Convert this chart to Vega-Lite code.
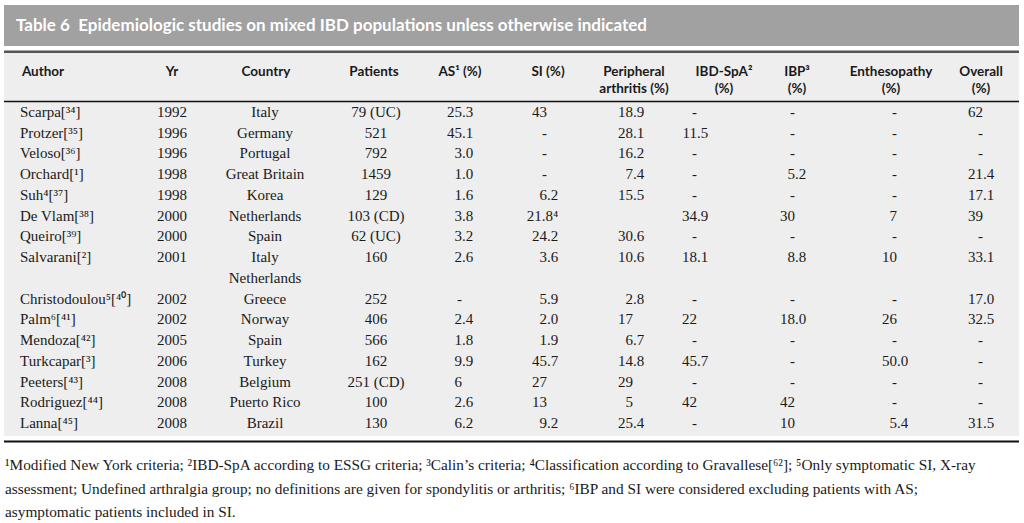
{
  "$schema": "https://vega.github.io/schema/vega-lite/v6.json",
  "width": 1024,
  "height": 523,
  "padding": 0,
  "autosize": {"type": "none"},
  "background": "white",
  "config": {"view": {"stroke": null}},
  "datasets": {
    "rows": [
      {"r": 0, "Author": "Scarpa[³⁴]", "Yr": "1992", "Country": "Italy", "Patients": "79 (UC)", "AS": "25.3", "SI": "43", "PA": "18.9", "SpA": "-", "IBP": "-", "Enth": "-", "Ov": "62"},
      {"r": 1, "Author": "Protzer[³⁵]", "Yr": "1996", "Country": "Germany", "Patients": "521", "AS": "45.1", "SI": "-", "PA": "28.1", "SpA": "11.5", "IBP": "-", "Enth": "-", "Ov": "-"},
      {"r": 2, "Author": "Veloso[³⁶]", "Yr": "1996", "Country": "Portugal", "Patients": "792", "AS": "3.0", "SI": "-", "PA": "16.2", "SpA": "-", "IBP": "-", "Enth": "-", "Ov": "-"},
      {"r": 3, "Author": "Orchard[¹]", "Yr": "1998", "Country": "Great Britain", "Patients": "1459", "AS": "1.0", "SI": "-", "PA": "7.4", "SpA": "-", "IBP": "5.2", "Enth": "-", "Ov": "21.4"},
      {"r": 4, "Author": "Suh⁴[³⁷]", "Yr": "1998", "Country": "Korea", "Patients": "129", "AS": "1.6", "SI": "6.2", "PA": "15.5", "SpA": "-", "IBP": "-", "Enth": "-", "Ov": "17.1"},
      {"r": 5, "Author": "De Vlam[³⁸]", "Yr": "2000", "Country": "Netherlands", "Patients": "103 (CD)", "AS": "3.8", "SI": "21.8⁴", "PA": "", "SpA": "34.9", "IBP": "30", "Enth": "7", "Ov": "39"},
      {"r": 6, "Author": "Queiro[³⁹]", "Yr": "2000", "Country": "Spain", "Patients": "62 (UC)", "AS": "3.2", "SI": "24.2", "PA": "30.6", "SpA": "-", "IBP": "-", "Enth": "-", "Ov": "-"},
      {"r": 7, "Author": "Salvarani[²]", "Yr": "2001", "Country": "Italy", "Patients": "160", "AS": "2.6", "SI": "3.6", "PA": "10.6", "SpA": "18.1", "IBP": "8.8", "Enth": "10", "Ov": "33.1"},
      {"r": 8, "Author": "", "Yr": "", "Country": "Netherlands", "Patients": "", "AS": "", "SI": "", "PA": "", "SpA": "", "IBP": "", "Enth": "", "Ov": ""},
      {"r": 9, "Author": "Christodoulou⁵[⁴⁰]", "Yr": "2002", "Country": "Greece", "Patients": "252", "AS": "-", "SI": "5.9", "PA": "2.8", "SpA": "-", "IBP": "-", "Enth": "-", "Ov": "17.0"},
      {"r": 10, "Author": "Palm⁶[⁴¹]", "Yr": "2002", "Country": "Norway", "Patients": "406", "AS": "2.4", "SI": "2.0", "PA": "17", "SpA": "22", "IBP": "18.0", "Enth": "26", "Ov": "32.5"},
      {"r": 11, "Author": "Mendoza[⁴²]", "Yr": "2005", "Country": "Spain", "Patients": "566", "AS": "1.8", "SI": "1.9", "PA": "6.7", "SpA": "-", "IBP": "-", "Enth": "-", "Ov": "-"},
      {"r": 12, "Author": "Turkcapar[³]", "Yr": "2006", "Country": "Turkey", "Patients": "162", "AS": "9.9", "SI": "45.7", "PA": "14.8", "SpA": "45.7", "IBP": "-", "Enth": "50.0", "Ov": "-"},
      {"r": 13, "Author": "Peeters[⁴³]", "Yr": "2008", "Country": "Belgium", "Patients": "251 (CD)", "AS": "6", "SI": "27", "PA": "29", "SpA": "-", "IBP": "-", "Enth": "-", "Ov": "-"},
      {"r": 14, "Author": "Rodriguez[⁴⁴]", "Yr": "2008", "Country": "Puerto Rico", "Patients": "100", "AS": "2.6", "SI": "13", "PA": "5", "SpA": "42", "IBP": "42", "Enth": "-", "Ov": "-"},
      {"r": 15, "Author": "Lanna[⁴⁵]", "Yr": "2008", "Country": "Brazil", "Patients": "130", "AS": "6.2", "SI": "9.2", "PA": "25.4", "SpA": "-", "IBP": "10", "Enth": "5.4", "Ov": "31.5"}
    ],
    "cols": [
      {"key": "Author", "i": 0}, {"key": "Yr", "i": 1}, {"key": "Country", "i": 2}, {"key": "Patients", "i": 3},
      {"key": "AS", "i": 4}, {"key": "SI", "i": 5}, {"key": "PA", "i": 6}, {"key": "SpA", "i": 7},
      {"key": "IBP", "i": 8}, {"key": "Enth", "i": 9}, {"key": "Ov", "i": 10}
    ],
    "header": [
      {"i": 0, "ln": 0, "t": "Author"},
      {"i": 1, "ln": 0, "t": "Yr"},
      {"i": 2, "ln": 0, "t": "Country"},
      {"i": 3, "ln": 0, "t": "Patients"},
      {"i": 4, "ln": 0, "t": "AS¹ (%)"},
      {"i": 5, "ln": 0, "t": "SI (%)"},
      {"i": 6, "ln": 0, "t": "Peripheral"},
      {"i": 6, "ln": 1, "t": "arthritis (%)"},
      {"i": 7, "ln": 0, "t": "IBD-SpA²"},
      {"i": 7, "ln": 1, "t": "(%)"},
      {"i": 8, "ln": 0, "t": "IBP³"},
      {"i": 8, "ln": 1, "t": "(%)"},
      {"i": 9, "ln": 0, "t": "Enthesopathy"},
      {"i": 9, "ln": 1, "t": "(%)"},
      {"i": 10, "ln": 0, "t": "Overall"},
      {"i": 10, "ln": 1, "t": "(%)"}
    ],
    "notes": [
      {"ln": 0, "t": "¹Modified New York criteria; ²IBD-SpA according to ESSG criteria; ³Calin’s criteria; ⁴Classification according to Gravallese[⁶²]; ⁵Only symptomatic SI, X-ray"},
      {"ln": 1, "t": "assessment; Undefined arthralgia group; no definitions are given for spondylitis or arthritis; ⁶IBP and SI were considered excluding patients with AS;"},
      {"ln": 2, "t": "asymptomatic patients included in SI."}
    ]
  },
  "layer": [
    {
      "data": {"values": [{}]},
      "mark": {"type": "rect", "color": "#a1a1a1"},
      "encoding": {
        "x": {"datum": 0, "type": "quantitative", "scale": {"domain": [0, 1], "range": [4, 1019]}, "axis": null},
        "x2": {"datum": 1},
        "y": {"datum": 0, "type": "quantitative", "scale": {"domain": [0, 1], "range": [5, 46]}, "axis": null},
        "y2": {"datum": 1}
      }
    },
    {
      "data": {"values": [{"t": "Table 6\u00a0\u00a0Epidemiologic studies on mixed IBD populations unless otherwise indicated"}]},
      "mark": {"type": "text", "align": "left", "baseline": "middle", "font": "Lato", "fontWeight": "bold", "fontSize": 17, "color": "white", "dx": 12},
      "encoding": {
        "x": {"datum": 0, "type": "quantitative", "scale": {"domain": [0, 1], "range": [4, 1019]}, "axis": null},
        "y": {"datum": 0.5, "type": "quantitative", "scale": {"domain": [0, 1], "range": [5, 46]}, "axis": null},
        "text": {"field": "t"}
      }
    },
    {
      "data": {"values": [{}]},
      "mark": {"type": "rect", "color": "#eeeeee"},
      "encoding": {
        "x": {"datum": 0, "type": "quantitative", "scale": {"domain": [0, 1], "range": [4, 1019]}, "axis": null},
        "x2": {"datum": 1},
        "y": {"datum": 0, "type": "quantitative", "scale": {"domain": [0, 1], "range": [53, 436]}, "axis": null},
        "y2": {"datum": 1}
      }
    },
    {
      "data": {"values": [{}]},
      "mark": {"type": "rect", "color": "#555555"},
      "encoding": {
        "x": {"datum": 0, "type": "quantitative", "scale": {"domain": [0, 1], "range": [4, 1019]}, "axis": null},
        "x2": {"datum": 1},
        "y": {"datum": 0, "type": "quantitative", "scale": {"domain": [0, 1], "range": [50.5, 53]}, "axis": null},
        "y2": {"datum": 1}
      }
    },
    {
      "data": {"values": [{}]},
      "mark": {"type": "rule", "color": "#111111", "strokeWidth": 1.5},
      "encoding": {
        "x": {"datum": 0, "type": "quantitative", "scale": {"domain": [0, 1], "range": [4, 1019]}, "axis": null},
        "x2": {"datum": 1},
        "y": {"datum": 0, "type": "quantitative", "scale": {"domain": [0, 1], "range": [101.5, 200]}, "axis": null}
      }
    },
    {
      "data": {"values": [{}]},
      "mark": {"type": "rule", "color": "#111111", "strokeWidth": 2},
      "encoding": {
        "x": {"datum": 0, "type": "quantitative", "scale": {"domain": [0, 1], "range": [4, 1019]}, "axis": null},
        "x2": {"datum": 1},
        "y": {"datum": 0, "type": "quantitative", "scale": {"domain": [0, 1], "range": [441.5, 500]}, "axis": null}
      }
    },
    {
      "data": {"name": "header"},
      "mark": {"type": "text", "align": "center", "baseline": "middle", "font": "Lato", "fontWeight": "bold", "fontSize": 13.5, "color": "#1a1a1a"},
      "encoding": {
        "x": {"field": "i", "type": "quantitative", "scale": {"domain": [0, 1, 2, 3, 4, 5, 6, 7, 8, 9, 10], "range": [43, 172, 266, 374, 460, 548, 634, 724, 797, 891, 981], "zero": false, "nice": false}, "axis": null},
        "y": {"field": "ln", "type": "quantitative", "scale": {"domain": [0, 1], "range": [72, 89], "zero": false, "nice": false}, "axis": null},
        "text": {"field": "t"}
      }
    },
    {
      "data": {"name": "rows"},
      "transform": [
        {"fold": ["Author", "Yr", "Country", "Patients", "AS", "SI", "PA", "SpA", "IBP", "Enth", "Ov"], "as": ["key", "val"]},
        {"lookup": "key", "from": {"data": {"name": "cols"}, "key": "key", "fields": ["i"]}},
        {"filter": "datum.val != ''"},
        {"filter": {"field": "key", "equal": "Author"}}
      ],
      "mark": {"type": "text", "align": "left", "baseline": "middle", "font": "Liberation Serif", "fontSize": 15, "color": "#1a1a1a"},
      "encoding": {
        "x": {"field": "i", "type": "quantitative", "scale": {"domain": [0, 1, 2, 3, 4, 5, 6, 7, 8, 9, 10], "range": [20, 172, 265, 376, 462, 547, 633, 697, 795, 897, 983], "zero": false, "nice": false}, "axis": null},
        "y": {"field": "r", "type": "quantitative", "scale": {"domain": [0, 15], "range": [112, 423], "zero": false, "nice": false}, "axis": null},
        "text": {"field": "val"}
      }
    },
    {
      "data": {"name": "rows"},
      "transform": [
        {"fold": ["Author", "Yr", "Country", "Patients", "AS", "SI", "PA", "SpA", "IBP", "Enth", "Ov"], "as": ["key", "val"]},
        {"lookup": "key", "from": {"data": {"name": "cols"}, "key": "key", "fields": ["i"]}},
        {"filter": "datum.val != ''"},
        {"filter": {"field": "key", "oneOf": ["Yr", "Country", "Patients"]}}
      ],
      "mark": {"type": "text", "align": "center", "baseline": "middle", "font": "Liberation Serif", "fontSize": 15, "color": "#1a1a1a"},
      "encoding": {
        "x": {"field": "i", "type": "quantitative", "scale": {"domain": [0, 1, 2, 3, 4, 5, 6, 7, 8, 9, 10], "range": [20, 172, 265, 376, 462, 547, 633, 697, 795, 897, 983], "zero": false, "nice": false}, "axis": null},
        "y": {"field": "r", "type": "quantitative", "scale": {"domain": [0, 15], "range": [112, 423], "zero": false, "nice": false}, "axis": null},
        "text": {"field": "val"}
      }
    },
    {
      "data": {"name": "rows"},
      "transform": [
        {"fold": ["Author", "Yr", "Country", "Patients", "AS", "SI", "PA", "SpA", "IBP", "Enth", "Ov"], "as": ["key", "val"]},
        {"lookup": "key", "from": {"data": {"name": "cols"}, "key": "key", "fields": ["i"]}},
        {"filter": "datum.val != ''"},
        {"filter": {"field": "key", "oneOf": ["AS", "SI", "PA", "SpA", "IBP", "Enth", "Ov"]}},
        {"filter": "indexof(datum.val, '.') >= 0"}
      ],
      "mark": {"type": "text", "align": "right", "baseline": "middle", "font": "Liberation Serif", "fontSize": 15, "color": "#1a1a1a", "dx": 11.25},
      "encoding": {
        "x": {"field": "i", "type": "quantitative", "scale": {"domain": [0, 1, 2, 3, 4, 5, 6, 7, 8, 9, 10], "range": [20, 172, 265, 376, 462, 547, 633, 697, 795, 897, 983], "zero": false, "nice": false}, "axis": null},
        "y": {"field": "r", "type": "quantitative", "scale": {"domain": [0, 15], "range": [112, 423], "zero": false, "nice": false}, "axis": null},
        "text": {"field": "val"}
      }
    },
    {
      "data": {"name": "rows"},
      "transform": [
        {"fold": ["Author", "Yr", "Country", "Patients", "AS", "SI", "PA", "SpA", "IBP", "Enth", "Ov"], "as": ["key", "val"]},
        {"lookup": "key", "from": {"data": {"name": "cols"}, "key": "key", "fields": ["i"]}},
        {"filter": "datum.val != ''"},
        {"filter": {"field": "key", "oneOf": ["AS", "SI", "PA", "SpA", "IBP", "Enth", "Ov"]}},
        {"filter": "indexof(datum.val, '.') < 0"}
      ],
      "mark": {"type": "text", "align": "right", "baseline": "middle", "font": "Liberation Serif", "fontSize": 15, "color": "#1a1a1a"},
      "encoding": {
        "x": {"field": "i", "type": "quantitative", "scale": {"domain": [0, 1, 2, 3, 4, 5, 6, 7, 8, 9, 10], "range": [20, 172, 265, 376, 462, 547, 633, 697, 795, 897, 983], "zero": false, "nice": false}, "axis": null},
        "y": {"field": "r", "type": "quantitative", "scale": {"domain": [0, 15], "range": [112, 423], "zero": false, "nice": false}, "axis": null},
        "text": {"field": "val"}
      }
    },
    {
      "data": {"name": "notes"},
      "mark": {"type": "text", "align": "left", "baseline": "middle", "font": "Liberation Serif", "fontSize": 15.3, "color": "#1a1a1a"},
      "encoding": {
        "x": {"datum": 0, "type": "quantitative", "scale": {"domain": [0, 1], "range": [5, 1019]}, "axis": null},
        "y": {"field": "ln", "type": "quantitative", "scale": {"domain": [0, 2], "range": [465, 512], "zero": false, "nice": false}, "axis": null},
        "text": {"field": "t"}
      }
    }
  ],
  "resolve": {"scale": {"x": "independent", "y": "independent"}}
}
